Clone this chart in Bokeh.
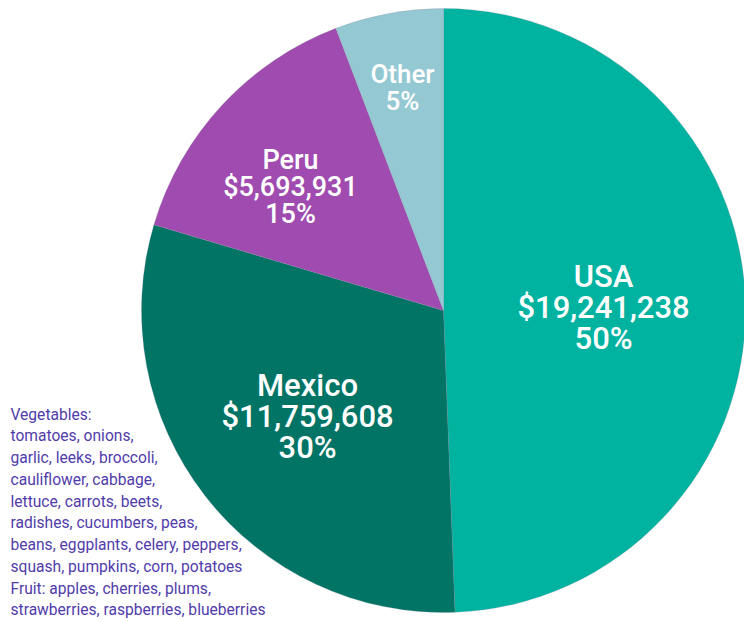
import math
from bokeh.plotting import figure
from bokeh.models import Range1d, ColumnDataSource
from bokeh.core.properties import value
from bokeh.embed import file_html
from bokeh.resources import INLINE

# ---- data ----
countries = ["USA", "Mexico", "Peru", "Other"]
values = [19241238, 11759608, 5693931, 2260000]
value_labels = ["$19,241,238", "$11,759,608", "$5,693,931", ""]
pct_labels = ["50%", "30%", "15%", "5%"]
colors = ["#00B3A1", "#017465", "#A04BAF", "#94C8D3"]

note_lines = [
    "Vegetables:",
    "tomatoes, onions,",
    "garlic, leeks, broccoli,",
    "cauliflower, cabbage,",
    "lettuce, carrots, beets,",
    "radishes, cucumbers, peas,",
    "beans, eggplants, celery, peppers,",
    "squash, pumpkins, corn, potatoes",
    "Fruit: apples, cherries, plums,",
    "strawberries, raspberries, blueberries",
]

# ---- layout / style ----
W, H = 744, 621
cx, cy, R = 443, H - 310, 302
label_r = [0.53, 0.57, 0.652, 0.75]
label_turn = [0.0, 0.0, 3.8, 0.0]   # degrees nudge
label_size = [31, 31, 27, 26]
label_step = [31, 31, 27, 27]

p = figure(width=W, height=H, output_backend="svg", toolbar_location=None,
           x_range=Range1d(0, W), y_range=Range1d(0, H), min_border=0)
p.axis.visible = False
p.grid.visible = False
p.outline_line_color = None

total = sum(values)
starts, ends, mids = [], [], []
cum = 0.0
for v in values:
    a0 = math.pi / 2 - 2 * math.pi * cum / total
    cum += v
    a1 = math.pi / 2 - 2 * math.pi * cum / total
    starts.append(a1)
    ends.append(a0)
    mids.append((a0 + a1) / 2)

src = ColumnDataSource(dict(x=[cx] * 4, y=[cy] * 4, start=starts, end=ends, color=colors))
p.wedge(x="x", y="y", radius=R, start_angle="start", end_angle="end",
        fill_color="color", line_color="#8a8aa0", line_width=0.4, line_alpha=0.6, source=src)

for i, name in enumerate(countries):
    ang = mids[i] + math.radians(label_turn[i])
    lx = cx + label_r[i] * R * math.cos(ang)
    ly = cy + label_r[i] * R * math.sin(ang)
    lines = [name] + ([value_labels[i]] if value_labels[i] else []) + [pct_labels[i]]
    n = len(lines)
    for j, t in enumerate(lines):
        yy = ly + ((n - 1) / 2 - j) * label_step[i]
        p.text(x=[lx], y=[yy], text=[t], text_align="center", text_baseline="middle",
               text_color="white", text_font=value("Roboto Medium"), text_font_style="normal",
               text_font_size=f"{label_size[i]}px")

for k, t in enumerate(note_lines):
    sy = 414 + k * 21.75
    p.text(x=[10], y=[H - sy], text=[t], text_align="left", text_baseline="middle",
           text_color="#513CAB", text_font=value("Roboto"), text_font_size="15.6px")

open("out.html", "w").write(file_html(p, INLINE))
